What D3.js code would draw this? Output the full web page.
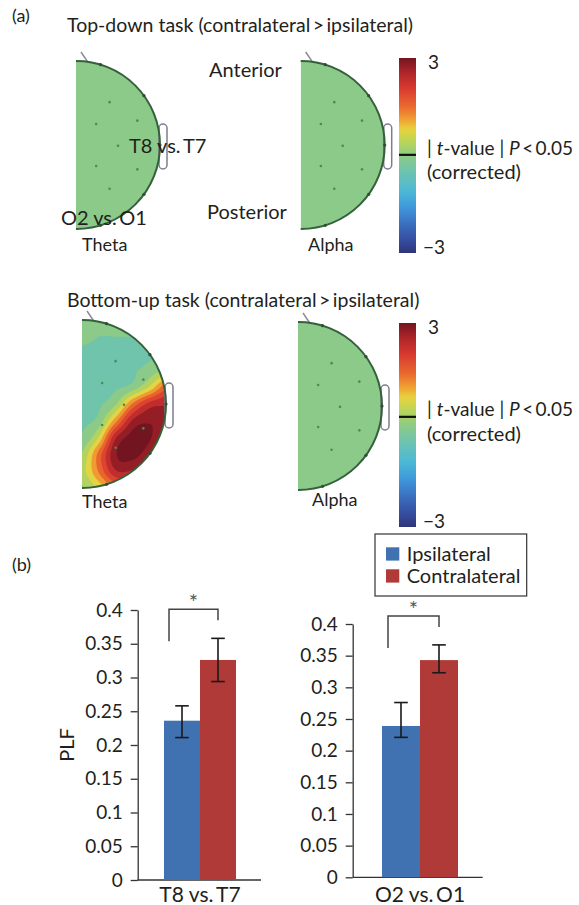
<!DOCTYPE html>
<html>
<head>
<meta charset="utf-8">
<title>Topographic t-maps and PLF bars</title>
<script src="https://d3js.org/d3.v7.min.js"></script>
<style>
  body { margin: 0; background: #fff; }
  svg { display: block; font-family: Lato, "Open Sans", sans-serif; }
  text { fill: #231f20; }
</style>
</head>
<body>
<svg id="fig" width="579" height="905"></svg>
<script>
// ---------- data ----------
const taskTitles = ["Top-down task (contralateral\u2009>\u2009ipsilateral)",
                    "Bottom-up task (contralateral\u2009>\u2009ipsilateral)"];
const bandNames = ["Theta", "Alpha"];

// t-value grids: rows anterior (v=-1) -> posterior (v=+1), step 0.2; cols midline (u=0) -> lateral (u=1), step 0.2
const flatGrid = d3.range(11).map(() => [0, 0, 0, 0, 0, 0]);
const bottomUpTheta = [
  [-0.2, -0.2, -0.2, -0.2, -0.2, -0.2],
  [-0.2, -0.25, -0.25, -0.25, -0.25, -0.2],
  [-0.3, -0.3, -0.3, -0.3, -0.3, -0.2],
  [-0.3, -0.3, -0.3, -0.3, -0.1, 0.2],
  [-0.3, -0.3, -0.3, -0.1, 0.6, 1.6],
  [-0.3, -0.3, 0.1, 1.4, 2.3, 2.5],
  [-0.3, -0.1, 1.2, 2.6, 2.9, 2.7],
  [-0.2, 0.6, 2.5, 3.1, 3.0, 2.5],
  [0.2, 1.5, 2.9, 3.1, 2.7, 2.2],
  [0.4, 1.4, 2.5, 2.5, 2.1, 1.8],
  [0.1, 0.7, 1.5, 1.6, 1.4, 1.2]
];
const tGrids = [[flatGrid, flatGrid], [bottomUpTheta, flatGrid]];

// colour bar
const tStops  = [-3, -2.6, -2.1, -1.6, -1.1, -0.4, 0, 0.4, 0.8, 1.1, 1.5, 2.1, 2.6, 3];
const tColors = ["#2f3478", "#364ea0", "#3a6fc0", "#3f98db", "#4cb8d6", "#72c5a8", "#8fcb84",
                 "#b7d45c", "#e8d43e", "#f0a232", "#ea6a2e", "#d8372f", "#a92429", "#731520"];
const tDomain = [-3, 3];
const thresholdT = [0.02, 0.24];

// electrode montage (u lateral, v anterior->posterior), rim electrodes by angle from the nose
const innerElectrodes = [[0.40, -0.51], [0.24, -0.25], [0.73, -0.29], [0.50, 0.01],
                         [0.24, 0.25], [0.73, 0.29], [0.40, 0.52]];
const rimAngles = [17, 54, 90, 126, 163];

// PLF bars
const pairs = ["T8 vs.\u2009T7", "O2 vs.\u2009O1"];
const conditions = ["Ipsilateral", "Contralateral"];
const ipsiMean   = [0.236, 0.239];
const ipsiLow    = [0.211, 0.221];
const ipsiHigh   = [0.258, 0.276];
const contraMean = [0.326, 0.343];
const contraLow  = [0.294, 0.323];
const contraHigh = [0.358, 0.367];
const yTicks = [0, 0.05, 0.1, 0.15, 0.2, 0.25, 0.3, 0.35, 0.4];
const yTickLabels = ["0", "0.05", "0.1", "0.15", "0.2", "0.25", "0.3", "0.35", "0.4"];
const condColors = ["#4072b2", "#b03a37"];

// ---------- setup ----------
const svg = d3.select("#fig");
const tColor = d3.scaleLinear().domain(tStops).range(tColors).clamp(true);

svg.append("text").attr("x", 12).attr("y", 16).attr("dy", "0.35em")
  .style("font-size", "18px").text("(a)");
svg.append("text").attr("x", 12).attr("y", 565).attr("dy", "0.35em")
  .style("font-size", "18px").text("(b)");

// ---------- topographic maps ----------
const R = 84;
const heads = [
  [{x0: 76, cy: 145}, {x0: 300.7, cy: 145}],
  [{x0: 82, cy: 404}, {x0: 298, cy: 406}]
];
const titleY = [25, 300];
const bandLabelPos = [[[82, 245], [308, 245]], [[82, 502], [312, 500]]];

function sampleGrid(g, u, v) {
  const gx = u / 0.2, gy = (v + 1) / 0.2;
  const nr = g.length, nc = g[0].length;
  const ix = Math.floor(gx), iy = Math.floor(gy);
  const fx = gx - ix, fy = gy - iy;
  const at = (r, c) => g[Math.max(0, Math.min(nr - 1, r))][Math.max(0, Math.min(nc - 1, c))];
  const cr = (p0, p1, p2, p3, t) => 0.5 * (2 * p1 + (-p0 + p2) * t +
    (2 * p0 - 5 * p1 + 4 * p2 - p3) * t * t + (-p0 + 3 * p1 - 3 * p2 + p3) * t * t * t);
  const rows = [-1, 0, 1, 2].map(k => cr(at(iy + k, ix - 1), at(iy + k, ix), at(iy + k, ix + 1), at(iy + k, ix + 2), fx));
  return cr(rows[0], rows[1], rows[2], rows[3], fy);
}

const nx = 84, ny = 168;
const levels = d3.range(-3.05, 3, 0.4);
const defs = svg.append("defs");

heads.forEach((row, ti) => {
  svg.append("text").attr("x", 67).attr("y", titleY[ti]).attr("dy", "0.35em")
    .style("font-size", "19.5px").text(taskTitles[ti]);

  row.forEach((h, bi) => {
    const id = `clip-${ti}-${bi}`;
    const halfDisc = `M${h.x0},${h.cy - R}A${R},${R} 0 0 1 ${h.x0},${h.cy + R}Z`;
    defs.append("clipPath").attr("id", id).append("path").attr("d", halfDisc);

    const values = new Array(nx * ny);
    for (let j = 0; j < ny; j++) {
      for (let i = 0; i < nx; i++) {
        values[i + j * nx] = sampleGrid(tGrids[ti][bi], (i + 0.5) / nx, -1 + 2 * (j + 0.5) / ny);
      }
    }
    const minV = d3.min(values);
    const bands = d3.contours().size([nx, ny]).thresholds(levels.filter(l => l > minV))(values);
    const proj = d3.geoTransform({
      point(x, y) { this.stream.point(h.x0 + x / nx * R, h.cy - R + y / ny * 2 * R); }
    });
    const path = d3.geoPath(proj);

    const g = svg.append("g");
    const map = g.append("g").attr("clip-path", `url(#${id})`);
    // base layer: band that contains the minimum value
    const baseLevel = d3.max(levels.filter(l => l <= minV));
    map.append("path").attr("d", halfDisc).attr("fill", tColor(baseLevel + 0.2));
    map.selectAll("path.band").data(bands).join("path")
      .attr("class", "band")
      .attr("d", path)
      .attr("fill", d => tColor(d.value + 0.2));

    // nose and ear
    const a0 = 8 * Math.PI / 180;
    g.append("line")
      .attr("x1", h.x0 + R * Math.sin(a0)).attr("y1", h.cy - R * Math.cos(a0))
      .attr("x2", h.x0 + 5).attr("y2", h.cy - R - 9)
      .attr("stroke", "#8a8a9a").attr("stroke-width", 1.5);
    g.append("rect")
      .attr("x", h.x0 + R - 1).attr("y", h.cy - 21)
      .attr("width", 8).attr("height", 45).attr("rx", 4)
      .attr("fill", "none").attr("stroke", "#7d7d8f").attr("stroke-width", 1.5);

    // head outline
    g.append("path")
      .attr("d", `M${h.x0},${h.cy - R}A${R},${R} 0 0 1 ${h.x0},${h.cy + R}`)
      .attr("fill", "none").attr("stroke", "#35603c").attr("stroke-width", 2);

    g.selectAll("circle.inner").data(innerElectrodes).join("circle")
      .attr("cx", d => h.x0 + d[0] * R).attr("cy", d => h.cy + d[1] * R)
      .attr("r", 1.3).attr("fill", "#4f8a55");
    g.selectAll("circle.rim").data(rimAngles).join("circle")
      .attr("cx", a => h.x0 + R * Math.sin(a * Math.PI / 180))
      .attr("cy", a => h.cy - R * Math.cos(a * Math.PI / 180))
      .attr("r", 1.6).attr("fill", "#2e4f33");

    g.append("text")
      .attr("x", bandLabelPos[ti][bi][0]).attr("y", bandLabelPos[ti][bi][1]).attr("dy", "0.35em")
      .style("font-size", "18px").text(bandNames[bi]);
  });
});

// labels on the top-down map
const topLabels = [["Anterior", 209, 70], ["Posterior", 207, 212], [pairs[0], 129, 146], [pairs[1], 61, 218]];
svg.selectAll("text.lbl").data(topLabels).join("text")
  .attr("x", d => d[1]).attr("y", d => d[2]).attr("dy", "0.35em")
  .style("font-size", "20px").text(d => d[0]);

// colour bars
const grad = defs.append("linearGradient").attr("id", "jet")
  .attr("x1", 0).attr("y1", 0).attr("x2", 0).attr("y2", 1);
d3.range(0, 1.0001, 0.02).forEach(f => {
  grad.append("stop").attr("offset", f).attr("stop-color", tColor(tDomain[1] - f * (tDomain[1] - tDomain[0])));
});

const bars = [{top: 58, bottom: 253}, {top: 323, bottom: 527}];
bars.forEach((b, k) => {
  const y = d3.scaleLinear().domain([tDomain[1], tDomain[0]]).range([b.top, b.bottom]);
  svg.append("rect").attr("x", 399).attr("y", b.top).attr("width", 17).attr("height", b.bottom - b.top)
    .attr("fill", "url(#jet)");
  svg.append("line").attr("x1", 399).attr("x2", 416)
    .attr("y1", y(thresholdT[k])).attr("y2", y(thresholdT[k]))
    .attr("stroke", "#111").attr("stroke-width", 2.2);
  svg.append("text").attr("x", 428).attr("y", y(3) + 4).attr("dy", "0.35em")
    .style("font-size", "19px").text("3");
  svg.append("text").attr("x", 423).attr("y", y(-3) - 6).attr("dy", "0.35em")
    .style("font-size", "19px").text("\u22123");
  const lab = svg.append("text").attr("x", 427).attr("y", y(thresholdT[k]) - 7).attr("dy", "0.35em")
    .style("font-size", "19px");
  lab.append("tspan").text("| ");
  lab.append("tspan").style("font-style", "italic").text("t");
  lab.append("tspan").text("-value | ");
  lab.append("tspan").style("font-style", "italic").text("P");
  lab.append("tspan").text("\u2009<\u20090.05");
  svg.append("text").attr("x", 427).attr("y", y(thresholdT[k]) + 17).attr("dy", "0.35em")
    .style("font-size", "20px").text("(corrected)");
});

// ---------- PLF bar charts ----------
const panels = [
  {axisX: 137.7, xEnd: 261, y0: 880, y1: 610, band: [164, 236]},
  {axisX: 352.7, xEnd: 482.7, y0: 877.3, y1: 624, band: [382, 458]}
];

panels.forEach((p, i) => {
  const y = d3.scaleLinear().domain([0, 0.4]).range([p.y0, p.y1]);
  const x = d3.scaleBand().domain(conditions).range(p.band).padding(0);
  const g = svg.append("g");

  const ax = g.append("g").attr("transform", `translate(${p.axisX},0)`)
    .call(d3.axisLeft(y).tickValues(yTicks).tickSize(7).tickSizeOuter(0).tickPadding(8)
      .tickFormat((d, k) => yTickLabels[k]));
  ax.select(".domain").attr("stroke", "#333").attr("stroke-width", 1.3);
  ax.selectAll(".tick line").attr("stroke", "#333").attr("stroke-width", 1.3);
  ax.selectAll(".tick text").style("font-size", "19px").style("font-family", "Lato, sans-serif")
    .attr("fill", "#231f20");

  g.append("line").attr("x1", p.axisX).attr("x2", p.xEnd).attr("y1", y(0)).attr("y2", y(0))
    .attr("stroke", "#333").attr("stroke-width", 1.3);

  const rows = [
    {c: conditions[0], m: ipsiMean[i], lo: ipsiLow[i], hi: ipsiHigh[i], col: condColors[0]},
    {c: conditions[1], m: contraMean[i], lo: contraLow[i], hi: contraHigh[i], col: condColors[1]}
  ];
  g.selectAll("rect.bar").data(rows).join("rect")
    .attr("x", d => x(d.c)).attr("width", x.bandwidth())
    .attr("y", d => y(d.m)).attr("height", d => y(0) - y(d.m))
    .attr("fill", d => d.col);

  const cx = d => x(d.c) + x.bandwidth() / 2;
  const eb = g.selectAll("g.err").data(rows).join("g").attr("stroke", "#1a1a1a").attr("stroke-width", 1.6);
  eb.append("line").attr("x1", cx).attr("x2", cx).attr("y1", d => y(d.lo)).attr("y2", d => y(d.hi));
  eb.append("line").attr("x1", d => cx(d) - 6.8).attr("x2", d => cx(d) + 6.8).attr("y1", d => y(d.hi)).attr("y2", d => y(d.hi));
  eb.append("line").attr("x1", d => cx(d) - 6.8).attr("x2", d => cx(d) + 6.8).attr("y1", d => y(d.lo)).attr("y2", d => y(d.lo));

  // significance bracket
  const top = y(d3.max([ipsiHigh[i], contraHigh[i]])) - 29;
  const lx = cx(rows[0]) - 13, rx = cx(rows[1]);
  g.append("path")
    .attr("d", `M${lx},${top + 32}V${top}H${rx}V${top + 11}`)
    .attr("fill", "none").attr("stroke", "#444").attr("stroke-width", 1.5);
  g.append("text").attr("x", (lx + rx) / 2).attr("y", top + 1).attr("text-anchor", "middle")
    .style("font-size", "22px").style("fill", "#555").text("*");

  g.append("text").attr("x", (p.band[0] + p.band[1]) / 2).attr("y", 902)
    .attr("text-anchor", "middle").style("font-size", "21px").text(pairs[i]);
});

svg.append("text").attr("transform", "translate(67,745) rotate(-90)")
  .attr("text-anchor", "middle").attr("dy", "0.35em").style("font-size", "20px").text("PLF");

// legend
const leg = svg.append("g");
leg.append("rect").attr("x", 375).attr("y", 534).attr("width", 151.7).attr("height", 62)
  .attr("fill", "#fff").attr("stroke", "#333").attr("stroke-width", 1.2);
conditions.forEach((c, k) => {
  leg.append("rect").attr("x", 386).attr("y", 547.3 + k * 22).attr("width", 13.3).attr("height", 13.3)
    .attr("fill", condColors[k]);
  leg.append("text").attr("x", 406.7).attr("y", 554 + k * 22).attr("dy", "0.35em")
    .style("font-size", "20px").text(c);
});
</script>
</body>
</html>
